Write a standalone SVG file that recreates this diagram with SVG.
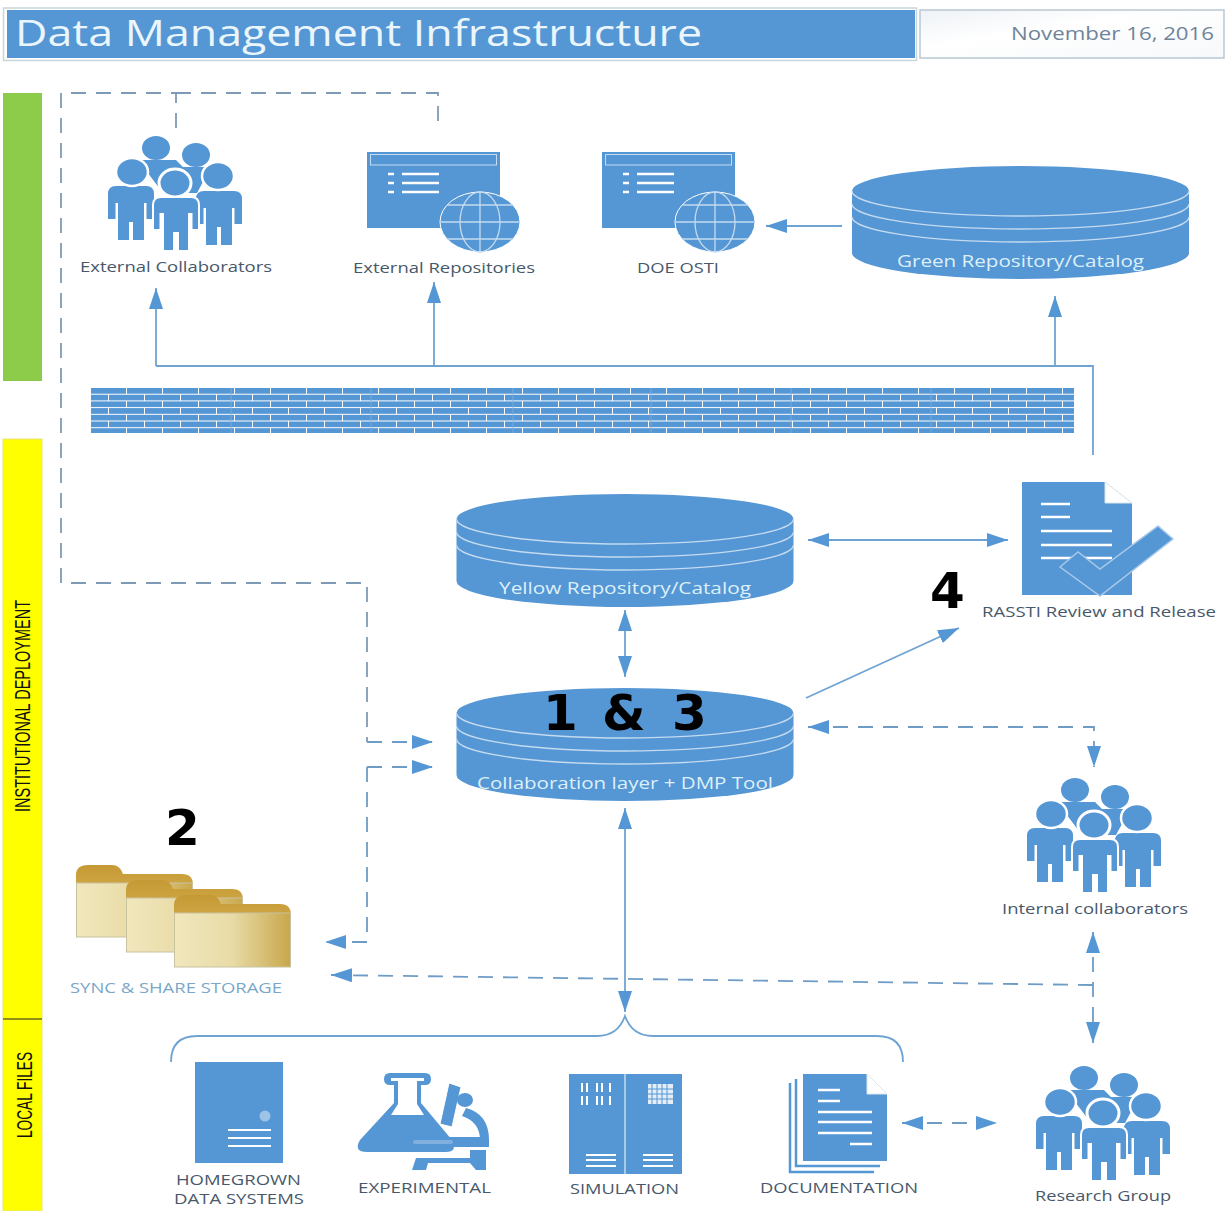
<svg xmlns="http://www.w3.org/2000/svg" width="1225" height="1211" viewBox="0 0 1225 1211">
<style>
text{font-family:"Open Sans","Liberation Sans",sans-serif}
.ic{fill:#5596d4}
.gl{stroke:#c4dbf0;stroke-width:1.3;fill:none}
.lbl{font-size:15px;fill:#48586a}
.wt{font-size:17px;fill:#dcf0fa}
.num{font-family:"DejaVu Sans",sans-serif;font-weight:700;font-size:50px;fill:#000}
.side{font-family:"Liberation Sans",sans-serif;font-size:22px;fill:#111}
.s{fill:none;stroke:#6fa3d2;stroke-width:1.8}
.d{fill:none;stroke:#6f9cc6;stroke-width:1.8;stroke-dasharray:15 10}
.dg{fill:none;stroke:#7f9ab4;stroke-width:1.8;stroke-dasharray:15 10}
.a2{marker-start:url(#arr);marker-end:url(#arr)}
.a1{marker-end:url(#arr)}
</style>
<defs>
<marker id="arr" markerUnits="userSpaceOnUse" markerWidth="22" markerHeight="14" refX="21" refY="7" orient="auto-start-reverse"><path d="M0 0L21 7L0 14Z" fill="#5596d4"/></marker>
<pattern id="brick" patternUnits="userSpaceOnUse" x="91" y="388" width="36" height="13.400">
<rect x="0" y="0" width="35" height="5.700" fill="#5596d4"/>
<rect x="0" y="6.700" width="17" height="5.700" fill="#5596d4"/>
<rect x="18" y="6.700" width="18" height="5.700" fill="#5596d4"/>
</pattern>
<linearGradient id="fb" x1="0" x2="1" y1="0" y2="0"><stop offset="0" stop-color="#f1e7bd"/><stop offset=".5" stop-color="#e8dba6"/><stop offset="1" stop-color="#c9a74c"/></linearGradient>
<linearGradient id="fh" x1="0" x2="0" y1="0" y2="1"><stop offset="0" stop-color="#c59a35"/><stop offset="1" stop-color="#e2c065"/></linearGradient>
<linearGradient id="db" x1="0" x2="1" y1="0" y2="1"><stop offset="0" stop-color="#eef2f6"/><stop offset=".4" stop-color="#fff"/><stop offset="1" stop-color="#f6f8fa"/></linearGradient>
<path id="person" d="M-15 0H15Q23 0 23 8V33H15.500V17H13V54H2V36H-2V54H-13V17H-15.500V33H-23V8Q-23 0-15 0Z"/>
<g id="people" class="ic">
<ellipse cx="156" cy="148" rx="14" ry="12"/>
<ellipse cx="196" cy="155" rx="14" ry="12"/>
<path d="M138 160H176L183 167H211L197 193H163Z"/>
<use href="#person" x="131" y="186"/>
<use href="#person" x="219" y="191"/>
<ellipse cx="132" cy="172" rx="16" ry="14" stroke="#fff" stroke-width="2.500"/>
<ellipse cx="218" cy="176" rx="16" ry="14" stroke="#fff" stroke-width="2.500"/>
<ellipse cx="175" cy="183" rx="16" ry="14" stroke="#fff" stroke-width="3"/>
<use href="#person" x="176" y="197" stroke="#fff" stroke-width="2"/>
</g>
<g id="webwin">
<rect class="ic" x="367" y="152" width="133" height="76"/>
<rect x="370.500" y="154.500" width="126" height="10.500" fill="none" stroke="#c4dbf0" stroke-width="1"/>
<path d="M388 174h6M388 183h6M388 192h6M402 174h37M402 183h37M402 192h37" stroke="#fff" stroke-width="2.500" fill="none"/>
<ellipse class="ic" cx="480" cy="222" rx="40" ry="30" stroke="#fff" stroke-width="1"/>
<path class="gl" d="M441 222H519M447 205H513M447 239H513M480 192V252"/>
<ellipse class="gl" cx="480" cy="222" rx="20" ry="30"/>
</g>
<g id="cyl">
<path class="ic" d="M852 191A168.500 25 0 0 1 1189 191V253A168.500 26 0 0 1 852 253Z"/>
<path class="gl" d="M852 191A168.500 25 0 0 0 1189 191M852 204A168.500 25 0 0 0 1189 204M852 217A168.500 25 0 0 0 1189 217"/>
</g>
<g id="folder">
<path d="M0 72V10Q0 0 12 0H36Q44 0 47 9H106Q117 9 117 20V72Z" fill="url(#fh)"/>
<rect x=".5" y="18" width="116" height="54" fill="url(#fb)" stroke="#c9c2a0"/>
</g>
</defs>
<rect width="1225" height="1211" fill="#fff"/>
<g id="header">
<rect x="3.500" y="8" width="913" height="52.500" fill="none" stroke="#c9d6dc" stroke-width="1.500"/>
<rect x="7" y="10" width="908" height="48" fill="#5596d4"/>
<text x="15" y="46" font-size="37" font-weight="500" fill="#eaf6fb" textLength="687" lengthAdjust="spacingAndGlyphs">Data Management Infrastructure</text>
<rect x="920" y="10" width="304" height="48" fill="url(#db)" stroke="#b9c8d2" stroke-width="1.500"/>
<text x="1011" y="40" font-size="19" fill="#6f8499" textLength="203" lengthAdjust="spacingAndGlyphs">November 16, 2016</text>
</g>
<g id="swimlanes">
<rect x="3" y="93" width="39" height="288" fill="#8ccc4a"/>
<rect x="3" y="439" width="39" height="772" fill="#ffff00" stroke="#e6e27a"/>
<path d="M3 1019H42" stroke="#222" stroke-width="1.200"/>
<text class="side" transform="translate(30 812) rotate(-90)" textLength="212" lengthAdjust="spacingAndGlyphs">INSTITUTIONAL DEPLOYMENT</text>
<text class="side" transform="translate(32 1138) rotate(-90)" textLength="86" lengthAdjust="spacingAndGlyphs">LOCAL FILES</text>
</g>
<g id="connectors">
<path class="dg" d="M176 128V93H61V583H367V742"/>
<path class="dg" d="M176 93H438V128"/>
<path class="d a1" d="M367 742H433"/>
<path class="d a1" d="M367 767V942H325"/>
<path class="d a1" d="M367 767H433"/>
<path class="s a1" d="M156 366V288"/>
<path class="s a1" d="M434 366V282"/>
<path class="s a1" d="M1055 366V296"/>
<path class="s" d="M156 366H1093V455"/>
<path class="s a1" d="M842 226H766"/>
<path class="s a2" d="M808 540H1008"/>
<path class="s a2" d="M625 610V677"/>
<path class="s a1" d="M806 698L959 628"/>
<path class="d a2" d="M808 727H1094V767"/>
<path class="s a2" d="M625 808V1012"/>
<path class="d a1" d="M1093 985L331 975"/>
<path class="d a2" d="M1093 932V1043"/>
<path class="d a2" d="M902 1123H997"/>
<path class="s" d="M171 1062Q171 1036 197 1036H597Q618 1036 625 1016Q632 1036 653 1036H877Q903 1036 903 1062"/>
</g>
<g id="firewall"><rect x="91" y="388" width="983" height="45" fill="url(#brick)"/><path d="M231 388V433M371 388V433M513 388V433M651 388V433M791 388V433M931 388V433" stroke="#7fb0df" stroke-width=".8"/></g>
<g id="external-collaborators"><use href="#people"/><text class="lbl" x="80" y="272" textLength="192" lengthAdjust="spacingAndGlyphs">External Collaborators</text></g>
<g id="external-repositories"><use href="#webwin"/><text class="lbl" x="353" y="273" textLength="182" lengthAdjust="spacingAndGlyphs">External Repositories</text></g>
<g id="doe-osti"><use href="#webwin" x="235"/><text class="lbl" x="637" y="273" textLength="82" lengthAdjust="spacingAndGlyphs">DOE OSTI</text></g>
<g id="green-repository"><use href="#cyl"/><text class="wt" x="897" y="267" textLength="247" lengthAdjust="spacingAndGlyphs">Green Repository/Catalog</text></g>
<g id="yellow-repository"><use href="#cyl" x="-395.500" y="328"/><text class="wt" x="499" y="594" textLength="252" lengthAdjust="spacingAndGlyphs">Yellow Repository/Catalog</text></g>
<g id="collaboration-layer"><use href="#cyl" x="-395.500" y="522"/><text class="wt" x="477" y="789" textLength="296" lengthAdjust="spacingAndGlyphs">Collaboration layer + DMP Tool</text><text class="num" x="543 578 602 650 672" y="730">1 &amp; 3</text></g>
<g id="rassti-review">
<path class="ic" d="M1022 482H1105L1132 503V595H1022Z"/>
<path d="M1105 482V503H1132Z" fill="#fff" stroke="#dbe6ef"/>
<path d="M1041 504h29M1041 517h29M1041 531h71M1041 545h71M1041 558h71" stroke="#fff" stroke-width="2.500" fill="none"/>
<path class="ic" d="M1060 567L1078 552L1100 569L1158 526L1173 539L1100 596Z" stroke="#a9c9e8" stroke-width="1.500"/>
<text class="lbl" x="982" y="617" textLength="234" lengthAdjust="spacingAndGlyphs">RASSTI Review and Release</text>
<text class="num" x="930" y="608">4</text>
</g>
<g id="internal-collaborators"><use href="#people" x="919" y="642"/><text class="lbl" x="1002" y="914" textLength="186" lengthAdjust="spacingAndGlyphs">Internal collaborators</text></g>
<g id="sync-share">
<use href="#folder" transform="translate(76 865)"/>
<use href="#folder" transform="translate(126 880)"/>
<use href="#folder" transform="translate(174 895)"/>
<text x="70" y="993" font-size="15" fill="#7ba7c8" textLength="212" lengthAdjust="spacingAndGlyphs">SYNC &amp; SHARE STORAGE</text>
<text class="num" x="165" y="845">2</text>
</g>
<g id="homegrown">
<rect class="ic" x="195" y="1062" width="88" height="101"/>
<circle cx="265" cy="1116" r="5.500" fill="#9fc3e6"/>
<path d="M228 1130h43M228 1138h43M228 1146h43" stroke="#fff" stroke-width="2" fill="none"/>
<text class="lbl" x="176" y="1185" textLength="125" lengthAdjust="spacingAndGlyphs">HOMEGROWN</text>
<text class="lbl" x="174" y="1204" textLength="130" lengthAdjust="spacingAndGlyphs">DATA SYSTEMS</text>
</g>
<g id="experimental">
<path class="ic" d="M390 1073H425Q431 1073 431 1079Q431 1085 425 1085H421V1103L452 1140Q458 1152 446 1152H367Q353 1152 360 1140L394 1103V1085H390Q384 1085 384 1079Q384 1073 390 1073Z"/>
<path d="M391 1078H424V1081H417V1104L424 1115H391L398 1104V1081H391Z" fill="#fff"/>
<path class="ic" d="M449 1083L461 1087L452 1127L440 1124Z" stroke="#fff" stroke-width="1"/>
<ellipse class="ic" cx="465" cy="1100" rx="8" ry="7"/>
<path class="ic" d="M466 1108Q489 1114 489 1140V1147H480V1140Q480 1122 462 1116Z"/>
<rect class="ic" x="410" y="1137" width="78" height="10" rx="4"/>
<rect x="413" y="1140" width="40" height="4" rx="2" fill="#7fb0df"/>
<path class="ic" d="M470 1150H486V1170H476L470 1163H428L426 1170H412L416 1158H470Z"/>
<text class="lbl" x="358" y="1193" textLength="133" lengthAdjust="spacingAndGlyphs">EXPERIMENTAL</text>
</g>
<g id="simulation">
<rect class="ic" x="569" y="1074" width="113" height="100"/>
<path d="M625 1074V1174" stroke="#c4dbf0" stroke-width="1.500"/>
<path d="M582 1083V1092M587 1083V1092M597 1083V1092M602 1083V1092M610 1083V1092M582 1096V1105M587 1096V1105M597 1096V1105M602 1096V1105M610 1096V1105" stroke="#fff" stroke-width="2" fill="none"/>
<rect x="648" y="1084" width="25" height="20" fill="#e3eef8"/>
<path d="M652 1084V1104M657 1084V1104M662 1084V1104M667 1084V1104M648 1089H673M648 1094H673M648 1099H673" stroke="#5596d4" stroke-width="1" fill="none"/>
<path d="M586 1155h30M586 1160h30M586 1166h30M643 1155h30M643 1160h30M643 1166h30" stroke="#fff" stroke-width="1.800" fill="none"/>
<text class="lbl" x="570" y="1194" textLength="109" lengthAdjust="spacingAndGlyphs">SIMULATION</text>
</g>
<g id="documentation">
<path d="M790 1083V1172H874" fill="none" stroke="#5596d4" stroke-width="2.500"/>
<path d="M796 1079V1166H880" fill="none" stroke="#5596d4" stroke-width="2.500"/>
<path class="ic" d="M803 1074H867L887 1094V1161H803Z"/>
<path d="M867 1074V1094H887Z" fill="#fff" stroke="#dbe6ef"/>
<path d="M818 1090h22M818 1101h22M818 1112h54M818 1122h54M818 1133h54M850 1144h22" stroke="#fff" stroke-width="2.500" fill="none"/>
<text class="lbl" x="760" y="1193" textLength="158" lengthAdjust="spacingAndGlyphs">DOCUMENTATION</text>
</g>
<g id="research-group"><use href="#people" x="928" y="930"/><text class="lbl" x="1035" y="1201" textLength="136" lengthAdjust="spacingAndGlyphs">Research Group</text></g>
</svg>
